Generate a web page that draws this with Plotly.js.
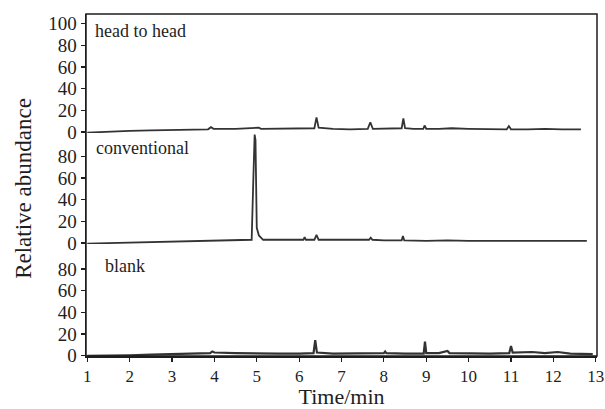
<!DOCTYPE html>
<html>
<head>
<meta charset="utf-8">
<script src="https://cdn.plot.ly/plotly-3.0.1.min.js"></script>
<style>html,body{margin:0;padding:0;background:#fff;}#chart{width:605px;height:409px;}</style>
</head>
<body>
<div id="chart"></div>
<script>
// ---- data ----
var headTime = [1.00, 1.5, 2.0, 2.5, 3.0, 3.5, 3.85, 3.92, 3.98, 4.5, 5.0, 5.05, 5.1, 5.5, 6.0, 6.36, 6.41, 6.46, 6.8, 7.2, 7.62, 7.68, 7.74, 8.0, 8.42, 8.46, 8.5, 8.7, 8.93, 8.96, 9.0, 9.3, 9.6, 10.0, 10.5, 10.9, 10.95, 11.0, 11.4, 11.8, 12.2, 12.65];
var headAbund = [-0.5, 0.5, 1, 1.5, 2, 2.5, 2.5, 4.5, 3, 3, 3.5, 4, 3, 3, 3, 3.5, 13.5, 4, 3, 2.5, 3, 9, 3, 3, 3.5, 12.5, 3.5, 3, 3, 6, 3, 3, 3.5, 3, 2.5, 2.5, 5.5, 2.5, 2.5, 3, 2.5, 2.5];

var convTime = [1.0, 1.5, 2.0, 2.5, 3.0, 3.5, 4.0, 4.5, 4.88, 4.92, 4.95, 4.97, 5.0, 5.05, 5.1, 5.15, 5.6, 6.0, 6.1, 6.13, 6.16, 6.36, 6.41, 6.46, 6.8, 7.2, 7.65, 7.69, 7.73, 8.0, 8.42, 8.45, 8.48, 9.0, 9.5, 10.0, 10.5, 11.0, 11.5, 11.7, 12.0, 12.5, 12.79];
var convAbund = [-0.5, 0, 0.5, 1, 1, 1.5, 2, 2.5, 3, 60, 100, 95, 14, 7, 4.5, 3, 3, 3, 3, 5.5, 3, 3, 7.5, 3, 3, 2.5, 3, 5, 3, 2.5, 2.5, 6.5, 2.5, 2, 2.5, 2, 2, 2, 2, 2.5, 2, 2, 2];

var blankTime = [1.0, 1.5, 2.0, 2.5, 3.0, 3.5, 3.9, 3.95, 4.0, 4.5, 5.0, 5.5, 6.0, 6.34, 6.38, 6.42, 6.8, 7.2, 7.6, 8.0, 8.03, 8.06, 8.5, 8.94, 8.97, 9.0, 9.3, 9.5, 9.55, 10.0, 10.5, 10.96, 11.0, 11.04, 11.5, 11.8, 12.1, 12.4, 12.93];
var blankAbund = [0, 0, 0.5, 1, 1.5, 2, 2.5, 4, 3, 2.5, 2, 2, 2, 2.5, 14.5, 3, 2, 2, 2.5, 2.5, 4, 2.5, 2, 2, 13, 2.5, 2.5, 4.5, 2.5, 2, 2, 2.5, 9, 3, 3.5, 2.5, 3.5, 2, 1.5];

var panelLabels = ["head to head", "conventional", "blank"];
var xTicks = [1, 2, 3, 4, 5, 6, 7, 8, 9, 10, 11, 12, 13];
var yTicksTop = [0, 20, 40, 60, 80, 100];
var yTicksLower = [0, 20, 40, 60, 80];

// ---- styling ----
var FONT = "'Liberation Serif', 'Times New Roman', serif";
var INK = "#1e1e1e";
var LINE = "#333333";

var traces = [
  {x: blankTime, y: blankAbund, xaxis: "x", yaxis: "y", mode: "lines", line: {color: LINE, width: 2.2}, name: panelLabels[2]},
  {x: convTime, y: convAbund, xaxis: "x", yaxis: "y2", mode: "lines", line: {color: LINE, width: 1.8}, name: panelLabels[1]},
  {x: headTime, y: headAbund, xaxis: "x", yaxis: "y3", mode: "lines", line: {color: LINE, width: 1.8}, name: panelLabels[0]}
];

function yax(domain, range, ticks, extra) {
  var a = {
    domain: domain, range: range, tickmode: "array", tickvals: ticks, ticktext: ticks.map(String),
    showline: true, linecolor: INK, linewidth: 1.5, ticks: "outside", ticklen: 4, tickwidth: 1.2, tickcolor: INK,
    showgrid: false, zeroline: false, anchor: "x", fixedrange: true,
    tickfont: {family: FONT, size: 19, color: INK}
  };
  for (var k in extra) a[k] = extra[k];
  return a;
}

var layout = {
  width: 605, height: 409,
  margin: {l: 86, r: 8, t: 14, b: 53},
  paper_bgcolor: "#fff", plot_bgcolor: "#fff",
  showlegend: false,
  font: {family: FONT, color: INK},
  xaxis: {
    range: [0.97, 13.03], tickmode: "array", tickvals: xTicks, ticktext: xTicks.map(String),
    showline: true, linecolor: INK, linewidth: 1.5, ticks: "outside", ticklen: 4, tickwidth: 1.2, tickcolor: INK,
    showgrid: false, zeroline: false, anchor: "y", fixedrange: true, ticklabeloverflow: "allow",
    tickfont: {family: FONT, size: 17, color: INK},
    title: {text: "Time/min", font: {family: FONT, size: 22, color: INK}, standoff: 10}
  },
  yaxis: yax([0, 0.3275], [-0.2, 103], yTicksLower, {}),
  yaxis2: yax([0.3275, 0.652], [-0.9, 101.4], yTicksLower,
    {title: {text: "Relative abundance", font: {family: FONT, size: 23, color: INK}, standoff: 19}}),
  yaxis3: yax([0.652, 1], [-0.9, 108.8], yTicksTop, {}),
  shapes: [
    {type: "rect", xref: "paper", yref: "paper", x0: 0, x1: 1, y0: 0, y1: 1, line: {color: INK, width: 1.5}, fillcolor: "rgba(0,0,0,0)"}
  ],
  annotations: [
    {text: panelLabels[0], xref: "paper", yref: "paper", x: 0.014, y: 0.95, xanchor: "left", yanchor: "middle", showarrow: false, font: {family: FONT, size: 18, color: INK}},
    {text: panelLabels[1], xref: "paper", yref: "paper", x: 0.016, y: 0.609, xanchor: "left", yanchor: "middle", showarrow: false, font: {family: FONT, size: 18, color: INK}},
    {text: panelLabels[2], xref: "paper", yref: "paper", x: 0.033, y: 0.264, xanchor: "left", yanchor: "middle", showarrow: false, font: {family: FONT, size: 18, color: INK}}
  ]
};

Plotly.newPlot("chart", traces, layout, {staticPlot: true, displayModeBar: false});
</script>
</body>
</html>
